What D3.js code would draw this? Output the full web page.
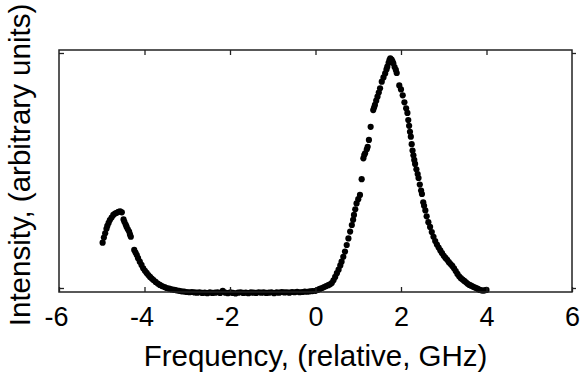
<!DOCTYPE html>
<html><head><meta charset="utf-8">
<script src="https://cdn.jsdelivr.net/npm/d3@7"></script>
<style>html,body{margin:0;padding:0;background:#fff;overflow:hidden}</style>
</head><body>
<svg id="chart" width="587" height="373"></svg>
<script>
// ---- data ----
const freq = [
 -4.98,-4.95,-4.92,-4.89,-4.87,-4.84,-4.81,-4.77,-4.73,-4.69,-4.65,-4.61,-4.57,-4.53,
 -4.49,-4.47,-4.44,-4.42,-4.39,-4.36,-4.34,-4.32,-4.24,-4.21,-4.18,-4.15,-4.11,-4.07,
 -4.03,-3.99,-3.95,-3.91,-3.87,-3.83,-3.79,-3.74,-3.69,-3.64,-3.59,-3.53,-3.48,-3.42,
 -3.36,-3.30,-3.25,-3.19,-3.13,-3.07,-3.01,
 -2.95,-2.89,-2.83,-2.77,-2.71,-2.65,-2.59,-2.53,-2.47,-2.41,-2.35,-2.29,-2.23,-2.17,
 -2.11,-2.05,-1.99,-1.93,-1.87,-1.81,-1.75,-1.69,-1.63,-1.57,-1.51,-1.45,-1.39,-1.33,
 -1.27,-1.21,-1.15,-1.09,-1.03,-0.97,-0.91,-0.85,-0.79,-0.73,-0.67,-0.61,-0.55,-0.49,
 -0.43,-0.37,-0.31,-0.25,-0.19,-0.13,-0.07,
 0.00,0.05,0.10,0.15,0.20,0.25,0.30,0.34,0.38,0.42,0.46,0.50,0.54,0.58,0.61,0.65,0.69,
 0.73,0.77,0.81,0.85,0.88,0.90,0.93,0.96,1.00,1.04,1.08,1.12,1.14,1.16,1.20,1.22,1.25,
 1.29,1.35,1.37,1.39,1.42,1.45,1.48,1.51,1.55,1.59,1.63,1.66,1.68,1.71,1.73,1.75,1.78,
 1.80,1.82,1.85,1.88,
 1.90,1.96,2.00,2.04,2.08,2.12,2.15,2.17,2.19,2.21,2.23,2.25,2.27,2.29,2.31,2.33,2.36,
 2.39,2.41,2.44,2.47,2.49,2.52,2.54,2.57,2.60,2.64,2.68,2.72,2.76,2.80,2.84,2.88,2.92,
 2.96,3.00,3.04,3.08,3.12,3.16,3.20,3.24,3.28,3.32,3.36,3.40,3.44,3.48,3.52,3.56,3.60,
 3.64,3.68,3.72,3.76,3.80,3.84,3.88,3.92,3.96,4.00
];
const intensity = [
 0.193,0.215,0.233,0.252,0.264,0.277,0.289,0.300,0.311,0.317,0.320,0.324,0.326,0.322,
 0.292,0.282,0.270,0.261,0.250,0.240,0.228,0.218,0.162,0.151,0.140,0.127,0.112,0.098,
 0.084,0.073,0.064,0.055,0.047,0.040,0.034,0.026,0.019,0.013,0.008,0.004,0.000,-0.003,
 -0.006,-0.008,-0.010,-0.012,-0.014,-0.015,-0.017,
 -0.018,-0.017,-0.019,-0.020,-0.018,-0.021,-0.020,-0.022,-0.019,-0.021,-0.020,-0.018,-0.021,-0.012,
 -0.020,-0.022,-0.019,-0.021,-0.023,-0.020,-0.018,-0.021,-0.020,-0.022,-0.019,-0.020,-0.021,-0.018,
 -0.020,-0.019,-0.021,-0.020,-0.018,-0.022,-0.019,-0.020,-0.017,-0.019,-0.018,-0.020,-0.017,-0.018,
 -0.016,-0.018,-0.017,-0.015,-0.016,-0.014,-0.013,
 -0.012,-0.008,-0.004,0.000,0.004,0.008,0.012,0.016,0.021,0.033,0.047,0.063,0.078,0.096,0.112,0.133,0.155,
 0.183,0.211,0.240,0.268,0.290,0.311,0.335,0.360,0.378,0.396,0.463,0.552,0.566,0.573,0.590,0.601,0.630,
 0.686,0.757,0.768,0.779,0.797,0.814,0.832,0.850,0.878,0.896,0.913,0.930,0.942,0.958,0.970,0.977,0.972,
 0.965,0.956,0.940,0.928,
 0.915,0.862,0.845,0.820,0.790,0.765,0.745,0.715,0.690,0.665,0.644,0.612,0.585,0.565,0.545,0.528,0.505,
 0.485,0.468,0.440,0.415,0.400,0.365,0.350,0.330,0.305,0.280,0.260,0.238,0.218,0.200,0.185,0.172,0.160,
 0.148,0.137,0.128,0.120,0.110,0.102,0.094,0.084,0.072,0.060,0.050,0.042,0.036,0.030,0.024,0.018,0.013,
 0.010,0.006,0.003,0.000,-0.004,-0.008,-0.010,-0.011,-0.010,-0.008
];
const xTicks = [-6,-4,-2,0,2,4,6];
const yTicks = [0,1];
const xLabel = "Frequency, (relative, GHz)";
const yLabel = "Intensity, (arbitrary units)";

// ---- layout ----
const L = 59, R = 572, T = 50, B = 292;
const svg = d3.select("#chart");
const x = d3.scaleLinear().domain([-6,6]).range([L,R]);
const y = d3.scaleLinear().domain([0,1]).range([288,53]);
const font = "'Liberation Sans', Arial, sans-serif";

const pts = freq.map((f,i)=>({f, v:intensity[i]}));

// points
svg.append("g").selectAll("circle").data(pts).join("circle")
  .attr("cx", d=>x(d.f)).attr("cy", d=>y(d.v)).attr("r", 3.1).attr("fill", "#000");

// box
svg.append("rect").attr("x",L).attr("y",T).attr("width",R-L).attr("height",B-T)
  .attr("fill","none").attr("stroke","#222").attr("stroke-width",1.5);

// x axis ticks via d3 axis (bottom, inward)
const xb = svg.append("g").attr("transform",`translate(0,${B})`)
  .call(d3.axisBottom(x).tickValues(xTicks).tickSizeInner(-5).tickSizeOuter(0).tickPadding(15).tickFormat(d3.format("d")));
xb.select(".domain").remove();
xb.selectAll("line").attr("stroke","#222").attr("stroke-width",1.3);
xb.selectAll("text").attr("font-family",font).attr("font-size",27).attr("fill","#000")
  .attr("dy","0.72em").attr("dx", d=>d<0?-3:0).text(d=>d<0?"-"+Math.abs(d):d);

const xt = svg.append("g").attr("transform",`translate(0,${T})`)
  .call(d3.axisTop(x).tickValues(xTicks.slice(1,-1)).tickSizeInner(-5).tickSizeOuter(0).tickFormat(""));
xt.select(".domain").remove();
xt.selectAll("line").attr("stroke","#222").attr("stroke-width",1.3);

// y ticks (no labels)
const yl = svg.append("g").attr("transform",`translate(${L},0)`)
  .call(d3.axisLeft(y).tickValues(yTicks).tickSizeInner(-5).tickSizeOuter(0).tickFormat(""));
yl.select(".domain").remove();
yl.selectAll("line").attr("stroke","#222").attr("stroke-width",1.3);
const yr = svg.append("g").attr("transform",`translate(${R},0)`)
  .call(d3.axisRight(y).tickValues(yTicks).tickSizeInner(4).tickSizeOuter(0).tickFormat(""));
yr.select(".domain").remove();
yr.selectAll("line").attr("stroke","#222").attr("stroke-width",1.3);

// axis labels
svg.append("text").attr("x",(L+R)/2).attr("y",366).attr("text-anchor","middle")
  .attr("font-family",font).attr("font-size",29.5).attr("fill","#000").text(xLabel);
svg.append("text").attr("transform",`translate(30,${165}) rotate(-90)`).attr("text-anchor","middle")
  .attr("font-family",font).attr("font-size",29.5).attr("fill","#000").text(yLabel);
</script>
</body></html>
